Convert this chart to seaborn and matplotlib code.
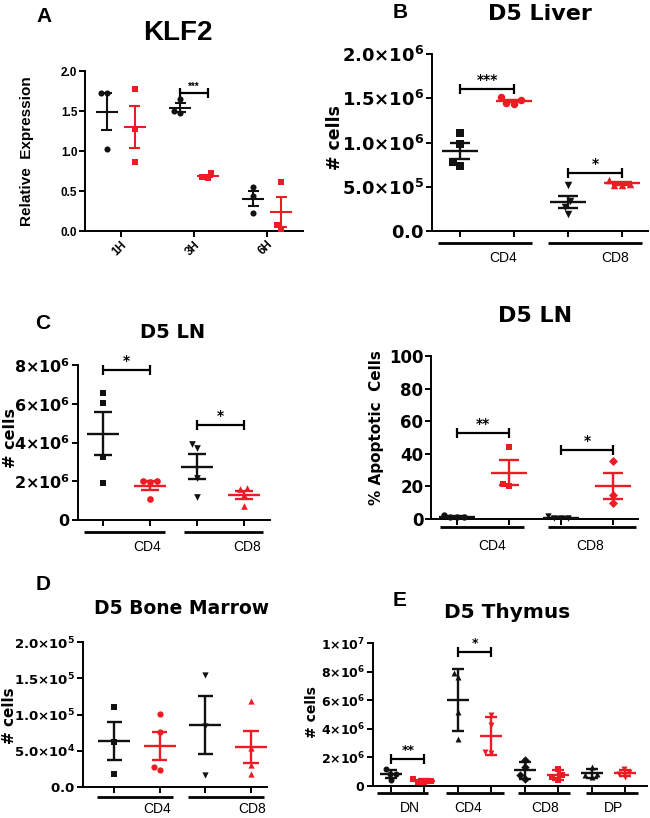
import numpy as np
import pandas as pd
import matplotlib
matplotlib.use("Agg")
import matplotlib.pyplot as plt
import seaborn as sns
from matplotlib.transforms import blended_transform_factory

# ---------------- data ----------------
A_times = ["1H", "3H", "6H"]
A_wt = [[1.72, 1.72, 1.03], [1.65, 1.48, 1.50], [0.55, 0.44, 0.22]]
A_ko = [[1.77, 1.27, 0.86], [0.72, 0.68, 0.66], [0.61, 0.08, 0.03]]
A_yticks = [0.0, 0.5, 1.0, 1.5, 2.0]
A_yticklabels = ["0.0", "0.5", "1.0", "1.5", "2.0"]
A_sig = [(1, 1.72, "***")]

B_cd4_wt = [1.11e6, 0.98e6, 0.78e6, 0.735e6]
B_cd4_ko = [1.51e6, 1.44e6, 1.45e6, 1.48e6]
B_cd8_wt = [0.52e6, 0.34e6, 0.27e6, 0.19e6]
B_cd8_ko = [0.58e6, 0.52e6, 0.52e6, 0.53e6]
B_yticks = [0, 5e5, 1e6, 1.5e6, 2e6]
B_yticklabels = [r"$\mathbf{0.0}$", r"$\mathbf{5.0{\times}10^{5}}$", r"$\mathbf{1.0{\times}10^{6}}$",
                 r"$\mathbf{1.5{\times}10^{6}}$", r"$\mathbf{2.0{\times}10^{6}}$"]
B_sig = [(0, 1, 1.60e6, "***"), (2, 3, 0.66e6, "*")]

C_cd4_wt = [6.57e6, 6.02e6, 3.24e6, 1.93e6]
C_cd4_ko = [2.02e6, 2.00e6, 1.98e6, 1.10e6]
C_cd8_wt = [3.70e6, 3.92e6, 2.19e6, 1.17e6]
C_cd8_ko = [1.64e6, 1.58e6, 1.30e6, 0.72e6]
C_yticks = [0, 2e6, 4e6, 6e6, 8e6]
C_yticklabels = [r"$\mathbf{0}$", r"$\mathbf{2{\times}10^{6}}$", r"$\mathbf{4{\times}10^{6}}$",
                 r"$\mathbf{6{\times}10^{6}}$", r"$\mathbf{8{\times}10^{6}}$"]
C_sig = [(0, 1, 7.75e6, "*"), (2, 3, 4.9e6, "*")]

R_cd4_wt = [1.5, 1.0, 1.2, 2.4]
R_cd4_ko = [44.0, 20.0, 21.5]
R_cd8_wt = [0.5, 0.6, 0.7, 1.6]
R_cd8_ko = [35.5, 15.0, 10.0]
R_yticks = [0, 20, 40, 60, 80, 100]
R_yticklabels = ["0", "20", "40", "60", "80", "100"]
R_sig = [(0, 1, 52.5, "**"), (2, 3, 42.4, "*")]

D_cd4_wt = [110e3, 62e3, 18e3]
D_cd4_ko = [101e3, 76e3, 27e3, 23e3]
D_cd8_wt = [155e3, 84e3, 17e3]
D_cd8_ko = [118e3, 54e3, 30e3, 18e3]
D_yticks = [0, 5e4, 1e5, 1.5e5, 2e5]
D_yticklabels = [r"$\mathbf{0.0}$", r"$\mathbf{5.0{\times}10^{4}}$", r"$\mathbf{1.0{\times}10^{5}}$",
                 r"$\mathbf{1.5{\times}10^{5}}$", r"$\mathbf{2.0{\times}10^{5}}$"]

E_dn_wt = [1.17e6, 0.86e6, 0.86e6, 0.45e6]
E_dn_ko = [0.50e6, 0.35e6, 0.30e6, 0.25e6]
E_cd4_wt = [7.6e6, 7.9e6, 5.2e6, 3.3e6]
E_cd4_ko = [5.0e6, 4.3e6, 2.4e6, 2.3e6]
E_cd8_wt = [1.8e6, 1.35e6, 0.75e6, 0.5e6]
E_cd8_ko = [1.2e6, 0.8e6, 0.6e6, 0.45e6]
E_dp_wt = [1.35e6, 0.85e6, 0.75e6, 0.65e6]
E_dp_ko = [1.2e6, 0.95e6, 0.85e6, 0.65e6]
E_yticks = [0, 2e6, 4e6, 6e6, 8e6, 1e7]
E_yticklabels = [r"$\mathbf{0}$", r"$\mathbf{2{\times}10^{6}}$", r"$\mathbf{4{\times}10^{6}}$",
                 r"$\mathbf{6{\times}10^{6}}$", r"$\mathbf{8{\times}10^{6}}$", r"$\mathbf{1{\times}10^{7}}$"]
E_sig = [(0, 1, 1.87e6, "**"), (2, 3, 9.4e6, "*")]

CATS_2 = ["CD4", "CD8"]
CATS_4 = ["DN", "CD4", "CD8", "DP"]

BLACK = "#111111"
RED = "#ec1c24"

# ---------------- style ----------------
sns.set_theme(style="ticks")
plt.rcParams["font.family"] = ["DejaVu Sans"]
plt.rcParams["mathtext.fontset"] = "dejavusans"
plt.rcParams["axes.linewidth"] = 1.4
for k in ["text.color", "axes.labelcolor", "xtick.color", "ytick.color", "axes.edgecolor"]:
    plt.rcParams[k] = "black"

W, H = 650, 818
fig = plt.figure(figsize=(6.5, 8.18), dpi=100)
fig.patch.set_facecolor("white")


def add_ax(l, r, t, b):
    ax = fig.add_axes([l / W, 1 - b / H, (r - l) / W, (b - t) / H])
    ax.set_facecolor("none")
    return ax, (b - t)


def ftext(x, y, s, **kw):
    kw.setdefault("ha", "center")
    kw.setdefault("va", "center")
    kw.setdefault("color", "black")
    fig.text(x / W, 1 - y / H, s, **kw)


def swarm(ax, x, vals, color, marker, size):
    df = pd.DataFrame({"x": np.full(len(vals), float(x)), "y": vals})
    sns.swarmplot(data=df, x="x", y="y", native_scale=True, orient="x", color=color,
                  marker=marker, size=size, linewidth=0, ax=ax, clip_on=False,
                  zorder=3, warn_thresh=1)


def meanbar(ax, x, vals, color, hw, chw, kind="se", lw=1.7):
    v = np.asarray(vals, float)
    m = v.mean()
    e = v.std(ddof=1)
    if kind == "se":
        e /= np.sqrt(len(v))
    ax.hlines(m, x - hw, x + hw, color=color, lw=lw, zorder=4, clip_on=False)
    ax.hlines([m - e, m + e], x - chw, x + chw, color=color, lw=lw, zorder=4, clip_on=False)
    ax.vlines(x, m - e, m + e, color=color, lw=lw, zorder=4, clip_on=False)


def style(ax, yticks, ylabels, ytop, xlim, fs, family=None):
    ax.set_ylim(0, ytop)
    ax.set_xlim(*xlim)
    ax.set_xlabel("")
    ax.set_ylabel("")
    sns.despine(ax=ax)
    for s in ["left", "bottom"]:
        ax.spines[s].set_color("black")
        ax.spines[s].set_linewidth(1.4)
    ax.set_yticks(yticks)
    kw = dict(fontsize=fs, fontweight="bold", color="black")
    if family:
        kw["family"] = family
    ax.set_yticklabels(ylabels, **kw)
    ax.tick_params(axis="both", direction="out", length=4, width=1.4, color="black", pad=1.5)
    ax.grid(False)


def bracket(ax, axh, x1, x2, y, txt, fs=10, tick_px=5, family=None):
    y0, y1 = ax.get_ylim()
    d = tick_px / axh * (y1 - y0)
    ax.hlines(y, x1, x2, color="black", lw=1.6, clip_on=False)
    ax.vlines([x1, x2], y - d, y + d, color="black", lw=1.6, clip_on=False)
    kw = dict(ha="center", va="bottom", fontsize=fs, fontweight="bold", color="black")
    if family:
        kw["family"] = family
    ax.text((x1 + x2) / 2, y + d * 0.4, txt, **kw)


def group_axis(ax, axh, spans, labels, label_x, dy_line, dy_text, fs=10):
    tr = blended_transform_factory(ax.transData, ax.transAxes)
    for a, b in spans:
        ax.plot([a, b], [-dy_line / axh] * 2, transform=tr, color="black", lw=2.0,
                clip_on=False, solid_capstyle="butt")
    for x, lab in zip(label_x, labels):
        ax.text(x, -dy_text / axh, lab, transform=tr, ha="center", va="center",
                fontsize=fs, family="Liberation Sans", color="black")


def four_panel(ax, groups, markers, size, hw, chw, kind="se", lw=1.7):
    cols = [BLACK, RED] * (len(groups) // 2)
    for i, (vals, c, m) in enumerate(zip(groups, cols, markers)):
        swarm(ax, i, vals, c, m, size)
    for i, (vals, c) in enumerate(zip(groups, cols)):
        meanbar(ax, i, vals, c, hw, chw, kind=kind, lw=lw)
    ax.set_xticks(range(len(groups)))
    ax.set_xticklabels([])


# ---------------- Panel A ----------------
axA, hA = add_ax(85, 303, 71, 231)
off = 0.19
for i in range(len(A_times)):
    swarm(axA, i - off, A_wt[i], BLACK, "o", 4.4)
    swarm(axA, i + off, A_ko[i], RED, "s", 4.1)
for i in range(len(A_times)):
    meanbar(axA, i - off, A_wt[i], BLACK, 0.15, 0.075, lw=1.5)
    meanbar(axA, i + off, A_ko[i], RED, 0.15, 0.075, lw=1.5)
style(axA, A_yticks, A_yticklabels, 2.0, (-0.49, 2.49), 8.5, family="Liberation Sans")
axA.set_xticks(range(len(A_times)))
axA.set_xticklabels(A_times, rotation=45, ha="right", rotation_mode="anchor",
                    fontsize=8.5, fontweight="bold", family="Liberation Sans", color="black")
for xi, y, s in A_sig:
    bracket(axA, hA, xi - off, xi + off, y, s, fs=7, tick_px=5, family="Liberation Sans")
ftext(44, 16, "A", fontsize=15, fontweight="bold", family="Liberation Sans")
ftext(178, 33, "KLF2", fontsize=20, fontweight="bold", family="Liberation Sans")
ftext(27, 151, "Relative  Expression", rotation=90, fontsize=11, fontweight="bold",
      family="Liberation Sans")

# ---------------- Panel B ----------------
axB, hB = add_ax(432, 648, 54, 231)
four_panel(axB, [B_cd4_wt, B_cd4_ko, B_cd8_wt, B_cd8_ko], ["s", "o", "v", "^"], 5.4, 0.33, 0.185)
style(axB, B_yticks, B_yticklabels, 2e6, (-0.52, 3.48), 13)
for a, b, y, s in B_sig:
    bracket(axB, hB, a, b, y, s, fs=10)
group_axis(axB, hB, [(-0.41, 1.33), (1.63, 3.37)], CATS_2, [0.80, 2.87], 12, 27)
ftext(400, 13, "B", fontsize=15, fontweight="bold", family="Liberation Sans")
ftext(540, 14, "D5 Liver", fontsize=16, fontweight="bold")
ftext(335, 137, "# cells", rotation=90, fontsize=12.5, fontweight="bold")

# ---------------- Panel C (left) ----------------
axC, hC = add_ax(78, 270, 365, 520)
four_panel(axC, [C_cd4_wt, C_cd4_ko, C_cd8_wt, C_cd8_ko], ["s", "o", "v", "^"], 4.8, 0.34, 0.19)
style(axC, C_yticks, C_yticklabels, 8e6, (-0.53, 3.55), 11.5)
for a, b, y, s in C_sig:
    bracket(axC, hC, a, b, y, s, fs=10)
group_axis(axC, hC, [(-0.40, 1.32), (1.72, 3.40)], CATS_2, [0.94, 3.06], 12, 27)
ftext(43, 324, "C", fontsize=15, fontweight="bold", family="Liberation Sans")
ftext(173, 333, "D5 LN", fontsize=14, fontweight="bold")
ftext(11, 438, "# cells", rotation=90, fontsize=11.5, fontweight="bold")

# ---------------- Panel C (right) ----------------
axR, hR = add_ax(431, 638, 356, 519)
four_panel(axR, [R_cd4_wt, R_cd4_ko, R_cd8_wt, R_cd8_ko], ["o", "s", "v", "D"], 4.6, 0.34, 0.19)
style(axR, R_yticks, R_yticklabels, 100, (-0.5, 3.48), 12)
for a, b, y, s in R_sig:
    bracket(axR, hR, a, b, y, s, fs=10)
group_axis(axR, hR, [(-0.33, 1.29), (1.75, 3.44)], CATS_2, [0.67, 2.56], 8, 27)
ftext(535, 316, "D5 LN", fontsize=16, fontweight="bold")
ftext(376, 428, "% Apoptotic  Cells", rotation=90, fontsize=11, fontweight="bold")

# ---------------- Panel D ----------------
axD, hD = add_ax(83, 267, 642, 787)
four_panel(axD, [D_cd4_wt, D_cd4_ko, D_cd8_wt, D_cd8_ko], ["s", "o", "v", "^"], 4.5, 0.35, 0.165)
style(axD, D_yticks, D_yticklabels, 2e5, (-0.68, 3.35), 9.5)
group_axis(axD, hD, [(-0.37, 1.29), (1.62, 3.28)], CATS_2, [0.94, 3.02], 10, 22)
ftext(43, 584, "D", fontsize=15, fontweight="bold", family="Liberation Sans")
ftext(182, 609, "D5 Bone Marrow", fontsize=13.5, fontweight="bold")
ftext(10, 716, "# cells", rotation=90, fontsize=11, fontweight="bold")

# ---------------- Panel E ----------------
axE, hE = add_ax(373, 647, 643, 786)
four_panel(axE, [E_dn_wt, E_dn_ko, E_cd4_wt, E_cd4_ko, E_cd8_wt, E_cd8_ko, E_dp_wt, E_dp_ko],
           ["o", "s", "^", "v", "D", "s", "^", "v"], 4.3, 0.33, 0.18, kind="sd")
style(axE, E_yticks, E_yticklabels, 1e7, (-0.54, 7.66), 9)
for a, b, y, s in E_sig:
    bracket(axE, hE, a, b, y, s, fs=9)
group_axis(axE, hE, [(-0.42, 1.11), (1.65, 3.38), (3.80, 5.36), (5.84, 7.40)], CATS_4,
           [0.57, 2.30, 4.60, 6.65], 7, 22)
ftext(400, 601, "E", fontsize=15, fontweight="bold", family="Liberation Sans")
ftext(507, 613, "D5 Thymus", fontsize=14.5, fontweight="bold")
ftext(312, 712, "# cells", rotation=90, fontsize=10, fontweight="bold")

fig.savefig("out.png", dpi=100, facecolor="white")
